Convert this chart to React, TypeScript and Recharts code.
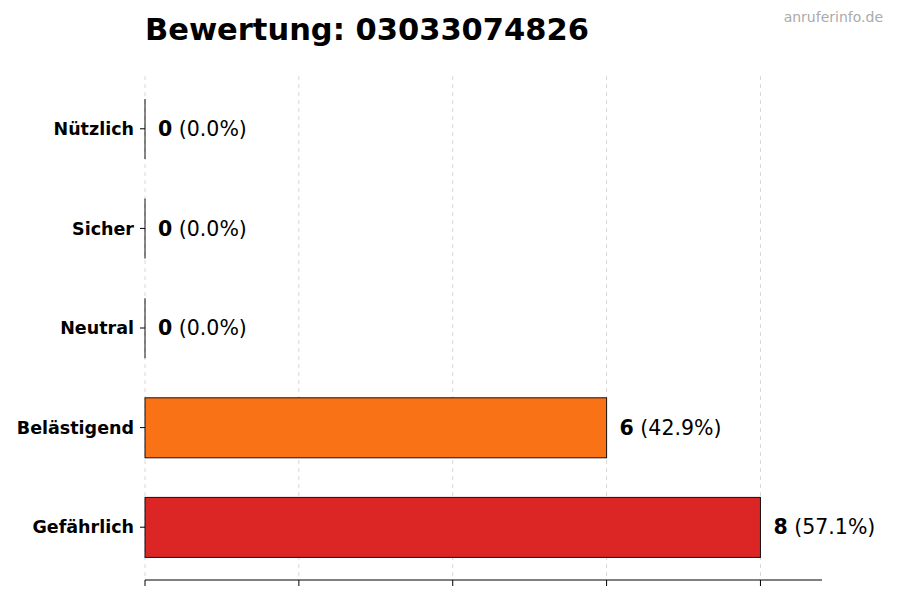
import { BarChart, Bar, XAxis, YAxis, CartesianGrid, Cell, LabelList } from 'recharts';

const categories = ['Nützlich', 'Sicher', 'Neutral', 'Belästigend', 'Gefährlich'];
const counts = [0, 0, 0, 6, 8];
const percents = [0.0, 0.0, 0.0, 42.9, 57.1];
const barColors = ['#22c55e', '#3b82f6', '#9ca3af', '#f97316', '#dc2626'];
const xTicks = [0, 2, 4, 6, 8];
const yTicks = [0, 1, 2, 3, 4];

const data = categories.map((name, i) => ({ idx: i, name, count: counts[i], pct: percents[i] }));

const FONT = '"DejaVu Sans", sans-serif';

// zero-width bars still show their edge as a thin line
const BarShape = (props: any) => {
  const { x, y, width, height, fill } = props;
  if (!width) {
    return <line x1={x} x2={x} y1={y} y2={y + height} stroke="#111" strokeWidth={1} />;
  }
  return <rect x={x} y={y} width={width} height={height} fill={fill} stroke="#111" strokeWidth={1} />;
};

const ValueLabel = (props: any) => {
  const { x, y, width, height, index } = props;
  return (
    <text
      x={x + width + 13}
      y={y + height / 2}
      dominantBaseline="central"
      fontFamily={FONT}
      fontSize={20.5}
      fill="#000"
    >
      <tspan fontWeight="bold">{counts[index]}</tspan>
      <tspan> ({percents[index].toFixed(1)}%)</tspan>
    </text>
  );
};

export default function App() {
  return (
    <div style={{ position: 'absolute', left: 0, top: 0, width: 900, height: 600, background: '#fff' }}>
      <style>{'body{margin:0}'}</style>
      <BarChart
        width={900}
        height={600}
        data={data}
        layout="vertical"
        margin={{ top: 76, right: 78, bottom: 0, left: 0 }}
      >
        <CartesianGrid horizontal={false} verticalValues={xTicks} stroke="#d8d8d8" strokeDasharray="4 4" />
        <XAxis
          type="number"
          dataKey="count"
          domain={[0, 8.8]}
          ticks={xTicks}
          tick={() => <g />}
          tickSize={6}
          height={20}
          axisLine={{ stroke: '#000' }}
          tickLine={{ stroke: '#000' }}
        />
        <YAxis
          type="number"
          dataKey="idx"
          domain={[-0.53, 4.53]}
          ticks={yTicks}
          width={145}
          axisLine={false}
          tickSize={5}
          tickMargin={6}
          tickLine={{ stroke: '#000' }}
          tickFormatter={(v: number) => categories[v]}
          tick={{ fontFamily: FONT, fontSize: 17.5, fontWeight: 'bold', fill: '#000' }}
        />
        <Bar dataKey="count" barSize={60} isAnimationActive={false} shape={BarShape}>
          {data.map((d, i) => (
            <Cell key={d.name} fill={barColors[i]} />
          ))}
          <LabelList dataKey="count" content={ValueLabel} />
        </Bar>
      </BarChart>
      <svg width={900} height={600} style={{ position: 'absolute', left: 0, top: 0, pointerEvents: 'none' }}>
        <text x={145} y={40} fontFamily={FONT} fontSize={30.5} fontWeight="bold" fill="#000">
          Bewertung: 03033074826
        </text>
        <text x={883} y={22} textAnchor="end" fontFamily={FONT} fontSize={14} fill="#aaaaaa">
          anruferinfo.de
        </text>
      </svg>
    </div>
  );
}
